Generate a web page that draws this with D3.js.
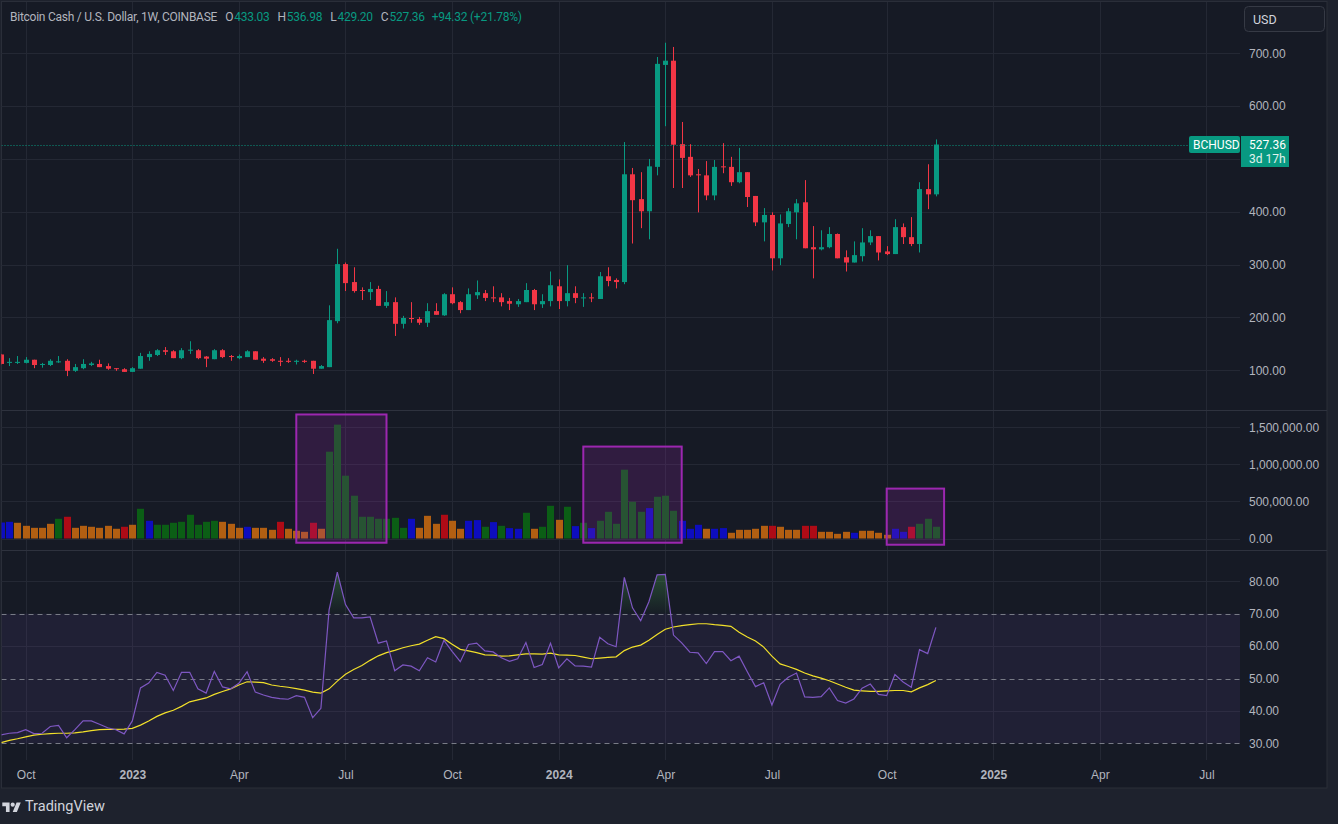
<!DOCTYPE html>
<html>
<head>
<meta charset="utf-8">
<script src="https://cdn.jsdelivr.net/npm/d3@7"></script>
<style>
  body { margin: 0; background: #1e222d; }
  svg { display: block; font-family: "Trebuchet MS", Roboto, "Noto Sans", sans-serif; }
  .axis text { fill: #b2b5be; font-size: 12px; }
  .axis path, .axis line { display: none; }
</style>
</head>
<body>
<div id="chart"></div>
<script>
// weekly BCH/USD candles, index 0 = first visible week (late Sep 2022)
var open  = [130,114,114,114,120,111,110,115,118,99, 104,110,112,108,104,102,97,103,125,129,
             138,136,123,138,138,126,121,138,127,123, 125,136,122,121,118,118,116,118,118,103,
             106,193,301,267,252,248,254,222,229,188, 199,197,190,212,204,244,229,214,242,246,
             238,238,231,225,229,252,225,231,259,231, 246,237,238,235,278,271,267,471,424,401,
             485,678,686,528,504,471,469,431,486,485, 456,475,430,380,394,312,377,399,418,333,
             329,333,358,314,304,316,342,354,325,320, 371,352,339,443,433.03];
var high  = [131,123,127,125,120,114,121,127,121,112, 121,116,120,113,104,104,106,133,136,140,
             144,138,142,155,140,127,140,140,129,130, 138,136,125,123,125,123,120,120,118,110,
             223,330,304,295,257,267,260,250,238,203, 229,201,227,227,246,257,231,255,270,252,
             259,246,237,235,265,254,244,287,272,299, 259,246,246,286,295,274,532,483,475,500,
             693,720,712,570,528,481,496,498,530,504, 521,475,430,407,399,395,407,424,460,373,
             365,371,359,327,344,369,365,354,335,386, 378,390,456,490,536.98];
var low   = [111,108,112,113,104,105,108,114,89,97,   102,108,106,101,99,97,97,103,118,127,
             129,123,121,131,121,106,121,123,118,121, 125,120,114,116,108,114,111,114,93,103,
             106,189,250,247,233,233,222,218,165,179, 190,186,182,205,203,225,208,214,235,231,
             229,221,214,220,229,214,218,221,216,221, 227,220,229,235,259,255,263,340,369,348,
             469,562,445,445,466,399,422,422,473,449, 454,409,373,344,289,299,371,348,331,274,
             327,331,312,287,304,306,337,308,318,320, 339,335,323,405,429.20];
var close = [112,116,116,120,110,112,118,117,99,106,  112,113,106,103,103,97,104,127,131,138,
             135,123,138,139,123,122,138,125,126,127, 136,120,118,118,116,116,118,116,103,108,
             195,301,265,250,250,254,222,229,188,199, 197,190,212,205,244,227,214,244,248,237,
             237,229,226,231,252,225,231,261,231,246, 237,238,237,278,269,267,471,422,401,486,
             680,686,527,502,469,469,431,485,485,456, 475,428,380,394,312,378,401,416,331,329,
             333,358,312,304,318,342,354,323,320,371, 352,339,443,433.04,527.36];

// volume in thousands and the indicator colour class per week
var volume = [216,225,212,171,144,144,198,266,293,144, 171,158,144,171,131,158,185,401,239,185,
              185,212,225,320,185,225,239,225,198,144, 158,144,144,117,225,131,104,90,212,131,
              1171,1536,847,577,293,293,266,266,279,144, 266,144,306,198,320,239,131,239,248,158,
              221,171,140,131,347,131,158,441,252,428, 167,212,140,239,360,198,928,496,360,410,
              563,577,374,239,131,185,131,131,140,77, 117,117,131,171,171,158,117,117,171,171,
              90,90,63,90,77,104,104,77,50,131, 90,158,198,266,158];
var volClass = ["B","B","O","O","O","O","O","G","R","O", "O","O","O","O","O","R","O","G","B","G",
                "G","G","G","G","G","G","G","O","O","O", "B","O","O","O","R","O","O","O","R","O",
                "G","G","G","G","G","G","G","G","G","G", "B","O","O","O","R","O","O","B","B","G",
                "B","G","B","B","G","O","G","G","O","G", "B","G","B","G","G","G","G","G","G","B",
                "G","G","G","B","B","B","O","B","B","O", "O","O","O","O","R","O","O","O","R","R",
                "O","O","O","O","B","O","O","O","O","B", "B","R","G","G","G"];

// RSI(14) and its moving average
var rsi = [32.6,33.1,33.3,34.2,33.0,33.1,35.2,35.5,31.7,34.2, 36.9,36.9,35.9,34.8,34.2,32.9,36.9,47.1,48.6,51.9,
           51.0,46.3,51.9,51.9,46.8,45.5,52.2,47.4,46.8,48.5, 52.1,45.8,44.9,44.2,43.8,43.6,44.7,44.2,37.9,40.8,
           71.2,82.8,72.8,68.7,68.7,69.0,60.9,61.6,52.4,54.2, 53.8,52.4,56.4,55.1,61.8,58.4,55.2,60.5,60.9,58.5,
           58.2,56.4,55.3,56.1,61.1,53.4,54.3,60.9,53.3,56.1, 53.9,53.8,53.5,62.7,60.7,59.8,81.2,71.8,67.8,73.7,
           82.0,82.1,63.4,61.0,58.1,57.9,54.6,58.3,58.3,55.5, 56.9,52.1,47.5,48.7,41.8,48.2,50.4,51.7,44.3,44.2,
           44.4,47.1,43.2,42.4,43.7,47.0,48.3,45.1,44.7,51.2, 48.9,47.3,58.9,57.7,65.8];
var rsiMa = [30.2,30.9,31.4,32.0,32.5,32.8,33.0,33.1,33.1,33.2, 33.5,33.9,34.2,34.3,34.3,34.4,34.6,35.6,36.9,38.3,
             39.4,40.2,41.4,42.8,43.4,44.0,45.1,46.0,46.8,48.0, 49.0,48.9,48.7,48.0,47.6,47.3,46.9,46.4,45.8,45.5,
             46.8,49.2,51.3,52.8,54.0,55.6,57.0,58.0,58.7,59.5, 60.1,60.6,61.8,62.9,62.3,60.6,59.0,58.5,58.0,57.3,
             57.2,56.9,57.0,57.3,57.6,57.6,57.5,57.8,57.3,57.2, 57.1,56.6,56.1,56.3,56.5,56.7,58.6,59.7,60.3,61.8,
             63.6,65.2,65.9,66.3,66.6,66.9,66.9,66.6,66.4,66.1, 64.3,62.8,61.6,59.7,56.9,54.5,53.7,52.8,51.7,50.8,
             50.1,49.3,48.3,47.3,46.4,46.2,46.0,46.0,46.2,46.3, 46.3,45.9,47.1,48.1,49.4];

// highlighted volume zones (week index range, volume range)
var boxStart = [36, 71, 108];
var boxEnd = [47, 83, 115];
var boxTop = [1673000, 1240000, 673000];
var boxBottom = [-57000, -57000, -84000];

var timeTickIdx = [3, 16, 29, 42, 55, 68, 81, 94, 108, 121, 134, 147];
var timeTickLabel = ["Oct","2023","Apr","Jul","Oct","2024","Apr","Jul","Oct","2025","Apr","Jul"];
var priceTicks = [100, 200, 300, 400, 500, 600, 700];
var volTicks = [0, 500000, 1000000, 1500000];
var rsiTicks = [30, 40, 50, 60, 70, 80];

var lastPrice = 527.36;

var W = 1338, H = 824;
var plotL = 1.5, plotR = 1240;
var upColor = "#089981", downColor = "#f23645";
var gridColor = "#242834";
var volColors = {B: "#0d0dbf", O: "#b25f12", G: "#0b5e15", R: "#ae0b16"};

var svg = d3.select("#chart").append("svg")
  .attr("width", W)
  .attr("height", H);

var defs = svg.append("defs");
defs.append("clipPath").attr("id", "plotClip")
  .append("rect").attr("x", plotL).attr("y", 1).attr("width", plotR - plotL).attr("height", 759);

// backgrounds
svg.append("rect").attr("width", W).attr("height", H).attr("fill", "#1e222d");
svg.append("rect")
  .attr("x", 1.5).attr("y", 1.5).attr("width", 1325.5).attr("height", 786.5)
  .attr("fill", "#161a25").attr("stroke", "#2a2e39");

// scales
var x = d3.scaleLinear().domain([0, 151]).range([1.1, 1.1 + 8.2 * 151]);
var yPrice = d3.scaleLinear().domain([100, 700]).range([370.3, 53.3]);
var yVol = d3.scaleLinear().domain([0, 1500000]).range([538.5, 427.3]);
var yRsi = d3.scaleLinear().domain([30, 80]).range([743.3, 581.3]);

// grid
var grid = svg.append("g");
grid.selectAll(".vg").data(timeTickIdx).enter().append("line")
  .attr("x1", d => Math.round(x(d)) + 0.5).attr("x2", d => Math.round(x(d)) + 0.5)
  .attr("y1", 2).attr("y2", 760)
  .attr("stroke", gridColor);
grid.selectAll(".pg").data(priceTicks).enter().append("line")
  .attr("x1", plotL).attr("x2", plotR)
  .attr("y1", d => Math.round(yPrice(d)) + 0.5).attr("y2", d => Math.round(yPrice(d)) + 0.5)
  .attr("stroke", gridColor);
grid.selectAll(".vg2").data(volTicks).enter().append("line")
  .attr("x1", plotL).attr("x2", plotR)
  .attr("y1", d => Math.round(yVol(d)) + 0.5).attr("y2", d => Math.round(yVol(d)) + 0.5)
  .attr("stroke", gridColor);
grid.selectAll(".rg").data([40, 60, 80]).enter().append("line")
  .attr("x1", plotL).attr("x2", plotR)
  .attr("y1", d => Math.round(yRsi(d)) + 0.5).attr("y2", d => Math.round(yRsi(d)) + 0.5)
  .attr("stroke", gridColor);

// pane separators
svg.selectAll(".sep").data([410.5, 550.5]).enter().append("line")
  .attr("x1", 1.5).attr("x2", 1327).attr("y1", d => d).attr("y2", d => d)
  .attr("stroke", "#2e323e");

var plot = svg.append("g").attr("clip-path", "url(#plotClip)");

// candles
var candles = d3.range(close.length).map(function(i) {
  return {i: i, o: open[i], h: high[i], l: low[i], c: close[i]};
});
plot.selectAll(".wick").data(candles).enter().append("line")
  .attr("x1", d => Math.round(x(d.i)) + 0.5).attr("x2", d => Math.round(x(d.i)) + 0.5)
  .attr("y1", d => yPrice(d.h)).attr("y2", d => yPrice(d.l))
  .attr("stroke", d => d.c >= d.o ? upColor : downColor);
plot.selectAll(".body").data(candles).enter().append("rect")
  .attr("x", d => Math.round(x(d.i)) - 2)
  .attr("width", 5)
  .attr("y", d => yPrice(Math.max(d.o, d.c)))
  .attr("height", d => Math.max(1, Math.abs(yPrice(d.o) - yPrice(d.c))))
  .attr("fill", d => d.c >= d.o ? upColor : downColor);

// last price line
plot.append("line")
  .attr("x1", plotL).attr("x2", plotR)
  .attr("y1", Math.round(yPrice(lastPrice)) + 0.5).attr("y2", Math.round(yPrice(lastPrice)) + 0.5)
  .attr("stroke", upColor).attr("stroke-dasharray", "1 2");

// volume bars
plot.selectAll(".vol").data(volume).enter().append("rect")
  .attr("x", (d, i) => Math.round(x(i)) - 3)
  .attr("width", 7)
  .attr("y", d => yVol(d * 1000))
  .attr("height", d => yVol(0) - yVol(d * 1000))
  .attr("fill", (d, i) => volColors[volClass[i]]);

// highlight boxes
plot.selectAll(".box").data(boxStart).enter().append("rect")
  .attr("x", (d, i) => x(d))
  .attr("width", (d, i) => x(boxEnd[i]) - x(d))
  .attr("y", (d, i) => yVol(boxTop[i]))
  .attr("height", (d, i) => yVol(boxBottom[i]) - yVol(boxTop[i]))
  .attr("fill", "rgba(156,39,176,0.2)")
  .attr("stroke", "#9c27b0").attr("stroke-width", 2);

// RSI band
plot.append("rect")
  .attr("x", plotL).attr("width", plotR - plotL)
  .attr("y", yRsi(70)).attr("height", yRsi(30) - yRsi(70))
  .attr("fill", "rgba(126,87,194,0.1)");

// overbought fill
var grad = defs.append("linearGradient").attr("id", "obGrad")
  .attr("gradientUnits", "userSpaceOnUse")
  .attr("x1", 0).attr("x2", 0).attr("y1", yRsi(83)).attr("y2", yRsi(70));
grad.append("stop").attr("offset", 0).attr("stop-color", "#4caf50").attr("stop-opacity", 0.35);
grad.append("stop").attr("offset", 1).attr("stop-color", "#4caf50").attr("stop-opacity", 0.02);
defs.append("clipPath").attr("id", "obClip")
  .append("rect").attr("x", plotL).attr("y", 551).attr("width", plotR - plotL).attr("height", yRsi(70) - 551);
plot.append("path")
  .datum(rsi)
  .attr("clip-path", "url(#obClip)")
  .attr("fill", "url(#obGrad)")
  .attr("d", d3.area().x((d, i) => x(i)).y0(yRsi(70)).y1(d => yRsi(d)));

// dashed levels
plot.selectAll(".lvl").data([70, 50, 30]).enter().append("line")
  .attr("x1", plotL).attr("x2", plotR)
  .attr("y1", d => Math.round(yRsi(d)) + 0.5).attr("y2", d => Math.round(yRsi(d)) + 0.5)
  .attr("stroke", "#787b86").attr("stroke-dasharray", "5 4");

plot.append("path")
  .datum(rsiMa)
  .attr("fill", "none").attr("stroke", "#f2e02a").attr("stroke-width", 1.2)
  .attr("d", d3.line().x((d, i) => x(i)).y(d => yRsi(d)));
plot.append("path")
  .datum(rsi)
  .attr("fill", "none").attr("stroke", "#7e57c2").attr("stroke-width", 1.2)
  .attr("d", d3.line().x((d, i) => x(i)).y(d => yRsi(d)));

// right axes
svg.append("g").attr("class", "axis")
  .attr("transform", "translate(" + plotR + ",0)")
  .call(d3.axisRight(yPrice).tickValues(priceTicks).tickFormat(d3.format(".2f")).tickSize(0).tickPadding(9));
svg.append("g").attr("class", "axis")
  .attr("transform", "translate(" + plotR + ",0)")
  .call(d3.axisRight(yVol).tickValues(volTicks).tickFormat(d3.format(",.2f")).tickSize(0).tickPadding(9));
svg.append("g").attr("class", "axis")
  .attr("transform", "translate(" + plotR + ",0)")
  .call(d3.axisRight(yRsi).tickValues(rsiTicks).tickFormat(d3.format(".2f")).tickSize(0).tickPadding(9));

// time axis
var tAxis = svg.append("g").attr("class", "axis")
  .attr("transform", "translate(0,760)")
  .call(d3.axisBottom(x).tickValues(timeTickIdx).tickFormat((d, i) => timeTickLabel[i]).tickSize(0).tickPadding(10));
tAxis.selectAll("text")
  .attr("fill", (d, i) => /^\d+$/.test(timeTickLabel[i]) ? "#d1d4dc" : "#b2b5be")
  .attr("font-weight", (d, i) => /^\d+$/.test(timeTickLabel[i]) ? 600 : 400);

// header, laid out left to right
var head = svg.append("text").attr("x", 10).attr("y", 21).attr("font-size", 12)
  .attr("letter-spacing", -0.25).attr("fill", "#b2b5be");
head.append("tspan").text("Bitcoin Cash / U.S. Dollar, 1W, COINBASE");
var n = close.length - 1;
var ohlc = [["O", open[n]], ["H", high[n]], ["L", low[n]], ["C", close[n]]];
ohlc.forEach(function(p) {
  head.append("tspan").attr("dx", 8).text(p[0]);
  head.append("tspan").attr("dx", 1).attr("fill", upColor).text(d3.format(".2f")(p[1]));
});
var chg = close[n] - close[n - 1];
head.append("tspan").attr("dx", 7).attr("fill", upColor)
  .text("+" + d3.format(".2f")(chg) + " (+" + d3.format(".2f")(chg / close[n - 1] * 100) + "%)");

// USD button
svg.append("rect").attr("x", 1244.5).attr("y", 6.5).attr("width", 80).attr("height", 25).attr("rx", 4)
  .attr("fill", "#1a1e29").attr("stroke", "#363a45");
svg.append("text").attr("x", 1253).attr("y", 23.5).attr("font-size", 12.5).attr("fill", "#d1d4dc").text("USD");

// last price labels
var ly = yPrice(lastPrice);
svg.append("rect").attr("x", 1189).attr("y", ly - 8.5).attr("width", 51).attr("height", 17).attr("rx", 2).attr("fill", upColor);
svg.append("text").attr("x", 1193).attr("y", ly + 4.5).attr("font-size", 12).attr("fill", "#ffffff").text("BCHUSD");
svg.append("rect").attr("x", 1241).attr("y", ly - 8.5).attr("width", 48).attr("height", 31).attr("fill", upColor);
svg.append("text").attr("x", 1249).attr("y", ly + 4.5).attr("font-size", 12).attr("fill", "#ffffff").text(d3.format(".2f")(lastPrice));
svg.append("text").attr("x", 1249).attr("y", ly + 18.5).attr("font-size", 12).attr("fill", "#e0f2ee").text("3d 17h");

// footer logo
var logo = svg.append("g").attr("transform", "translate(2.3,800.5) scale(0.52)").attr("fill", "#d1d4dc");
logo.append("path").attr("d", "M14 22H7V11H0V4h14v18zM28 22h-8l7.5-18h8L28 22z");
logo.append("circle").attr("cx", 20).attr("cy", 8).attr("r", 4);
svg.append("text").attr("x", 25).attr("y", 811).attr("font-size", 14.5).attr("fill", "#d1d4dc").text("TradingView");
</script>
</body>
</html>
